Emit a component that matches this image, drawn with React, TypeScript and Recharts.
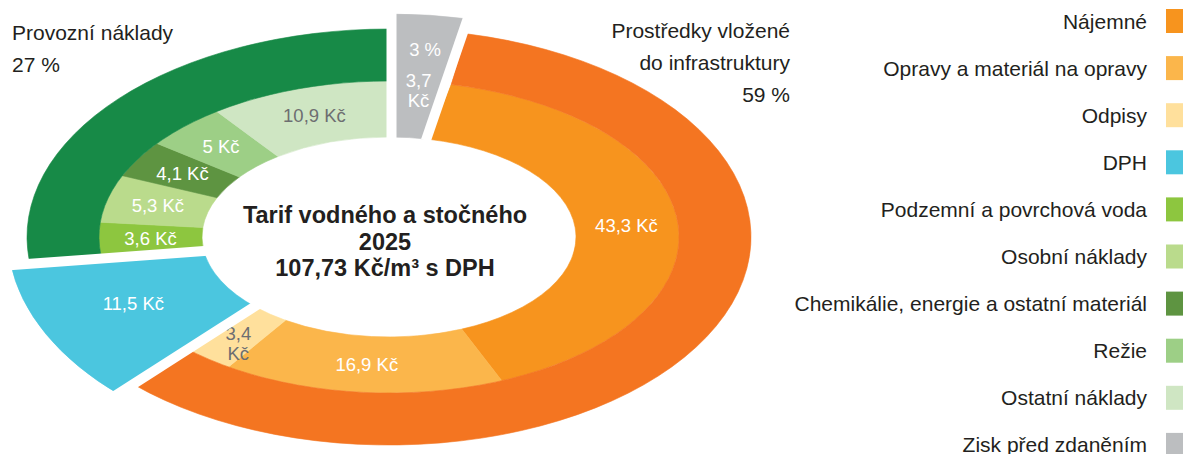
import { Pie, PieChart } from "recharts";

const INNER_NAMES = [
  "Zisk před zdaněním",
  "Nájemné",
  "Opravy a materiál na opravy",
  "Odpisy",
  "DPH",
  "Podzemní a povrchová voda",
  "Osobní náklady",
  "Chemikálie, energie a ostatní materiál",
  "Režie",
  "Ostatní náklady",
];
const INNER_VALUES = [3.7, 43.3, 16.9, 3.4, 11.5, 3.6, 5.3, 4.1, 5, 10.9];

const OUTER_NAMES = [
  "Zisk před zdaněním",
  "Prostředky vložené do infrastruktury",
  "DPH",
  "Provozní náklady",
];
const OUTER_VALUES = [3.7, 63.6, 11.5, 28.9];

const LEGEND_NAMES = [
  "Nájemné",
  "Opravy a materiál na opravy",
  "Odpisy",
  "DPH",
  "Podzemní a povrchová voda",
  "Osobní náklady",
  "Chemikálie, energie a ostatní materiál",
  "Režie",
  "Ostatní náklady",
  "Zisk před zdaněním",
];

const TITLE_LINES = ["Tarif vodného a stočného", "2025", "107,73 Kč/m³ s DPH"];

// slices pulled out of the ring, narrow ones with a two-line label, light ones with grey text
const EXPLODED = ["Zisk před zdaněním", "DPH"];
const TWO_LINE = ["Odpisy", "Zisk před zdaněním"];
const GREY_TEXT = ["Odpisy", "Ostatní náklady"];

const COLORS: Record<string, string> = {
  "Zisk před zdaněním": "#bcbec0",
  "Nájemné": "#f7941e",
  "Opravy a materiál na opravy": "#fbb64b",
  "Odpisy": "#ffe09c",
  "DPH": "#4bc6df",
  "Podzemní a povrchová voda": "#8dc63f",
  "Osobní náklady": "#badb8c",
  "Chemikálie, energie a ostatní materiál": "#5e9441",
  "Režie": "#9dcf86",
  "Ostatní náklady": "#cfe6c3",
  "Prostředky vložené do infrastruktury": "#f47521",
  "Provozní náklady": "#178a47",
};

const W = 1183;
const H = 454;
const CX = 389;
const CY = 237;
const HOLE = 187;
const MID = 290;
const OUTER = 362;
const BURST = 381;
// the ring is drawn flattened: horizontal radius -> vertical radius
const RY: [number, number][] = [
  [HOLE, 100],
  [MID, 156],
  [OUTER, 208],
  [BURST, 223],
];
const FONT = '"Liberation Sans", Arial, Helvetica, sans-serif';
const DARK = "#231f20";
const GREY = "#6d6e71";

const innerData = INNER_NAMES.map((name, i) => ({ name, value: INNER_VALUES[i] }));
const outerData = OUTER_NAMES.map((name, i) => ({ name, value: OUTER_VALUES[i] }));
const outerTotal = OUTER_VALUES.reduce((a, b) => a + b, 0);
const pct = (name: string) =>
  Math.round((OUTER_VALUES[OUTER_NAMES.indexOf(name)] / outerTotal) * 100) + " %";

function ry(r: number) {
  let i = 0;
  while (i < RY.length - 2 && r > RY[i + 1][0]) i++;
  const [r0, y0] = RY[i];
  const [r1, y1] = RY[i + 1];
  return y0 + ((r - r0) * (y1 - y0)) / (r1 - r0);
}

function pt(cx: number, cy: number, r: number, deg: number): [number, number] {
  const t = (deg * Math.PI) / 180;
  return [cx + r * Math.cos(t), cy - ry(r) * Math.sin(t)];
}

function ringPath(cx: number, cy: number, r0: number, r1: number, a0: number, a1: number) {
  const large = Math.abs(a0 - a1) > 180 ? 1 : 0;
  const p0 = pt(cx, cy, r1, a0);
  const p1 = pt(cx, cy, r1, a1);
  const p2 = pt(cx, cy, r0, a1);
  const p3 = pt(cx, cy, r0, a0);
  return (
    `M${p0[0]},${p0[1]} A${r1},${ry(r1)} 0 ${large} 1 ${p1[0]},${p1[1]} ` +
    `L${p2[0]},${p2[1]} A${r0},${ry(r0)} 0 ${large} 0 ${p3[0]},${p3[1]} Z`
  );
}

const fmt = (v: number) => String(v).replace(".", ",");

function sliceLabel(p: any, name: string, text: string, r: number, color: string, angle?: number) {
  const mid = angle ?? (p.startAngle + p.endAngle) / 2;
  const [x, y] = pt(p.cx, p.cy, r, mid);
  const common = {
    x,
    textAnchor: "middle" as const,
    dominantBaseline: "central" as const,
    fontFamily: FONT,
    fontSize: 18.5,
    fill: color,
  };
  if (TWO_LINE.includes(name)) {
    const parts = text.split(" ");
    return (
      <g>
        <text {...common} y={y - 10}>{parts[0]}</text>
        <text {...common} y={y + 10}>{parts[1]}</text>
      </g>
    );
  }
  return <text {...common} y={y}>{text}</text>;
}

function renderInner(p: any) {
  const name = p.payload?.name ?? p.name;
  if (EXPLODED.includes(name)) return <g />;
  const color = COLORS[name];
  return (
    <path
      d={ringPath(p.cx, p.cy, p.innerRadius, p.outerRadius, p.startAngle, p.endAngle)}
      fill={color}
      stroke={color}
      strokeWidth={0.6}
    />
  );
}

function renderOuter(p: any) {
  const name = p.payload?.name ?? p.name;
  const color = COLORS[name];
  const burst = EXPLODED.includes(name);
  const r0 = burst ? HOLE : p.innerRadius;
  const r1 = burst ? BURST : p.outerRadius;
  return (
    <g>
      <path
        d={ringPath(p.cx, p.cy, r0, r1, p.startAngle, p.endAngle)}
        fill={color}
        stroke={color}
        strokeWidth={0.6}
      />
      {name === "Zisk před zdaněním" &&
        sliceLabel(p, "", pct(name), (MID + BURST) / 2, "#ffffff")}
    </g>
  );
}

function gapLine(cx: number, cy: number, angle: number, mid: number) {
  const [x0, y0] = pt(cx, cy, HOLE - 4, angle);
  const [x1, y1] = pt(cx, cy, BURST + 8, angle);
  let dx = x1 - x0;
  let dy = y1 - y0;
  const len = Math.hypot(dx, dy);
  dx /= len;
  dy /= len;
  let nx = -dy;
  let ny = dx;
  const [mx, my] = pt(cx, cy, (HOLE + BURST) / 2, mid);
  if ((mx - x0) * nx + (my - y0) * ny < 0) {
    nx = -nx;
    ny = -ny;
  }
  const o = 2.5;
  return (
    <line
      x1={x0 + nx * o}
      y1={y0 + ny * o}
      x2={x1 + nx * o}
      y2={y1 + ny * o}
      stroke="#ffffff"
      strokeWidth={10}
    />
  );
}

// drawn last: gaps round the pulled-out slices, then every inner label
function renderOverlay(p: any) {
  const name = p.payload?.name ?? p.name;
  const burst = EXPLODED.includes(name);
  let mid = (p.startAngle + p.endAngle) / 2;
  let r = (p.innerRadius + p.outerRadius) / 2;
  if (name === "DPH") r = (HOLE + BURST) / 2;
  else if (TWO_LINE.includes(name)) {
    r = p.innerRadius + (p.outerRadius - p.innerRadius) * (burst ? 0.85 : 0.6);
    // keep narrow labels clear of the gap next to a pulled-out neighbour
    const next = INNER_NAMES[p.index + 1];
    const prev = INNER_NAMES[p.index - 1];
    if (!burst && EXPLODED.includes(next)) mid += 2;
    if (!burst && EXPLODED.includes(prev)) mid -= 2;
  }
  const color = GREY_TEXT.includes(name) ? GREY : "#ffffff";
  return (
    <g>
      {burst && gapLine(p.cx, p.cy, p.startAngle, mid)}
      {burst && gapLine(p.cx, p.cy, p.endAngle, mid)}
      {sliceLabel(p, name, fmt(p.value) + " Kč", r, color, mid)}
    </g>
  );
}

const textStyle = { fontFamily: FONT, fill: DARK };

export default function App() {
  return (
    <div style={{ position: "absolute", left: 0, top: 0, width: W, height: H, background: "#fff" }}>
      <PieChart width={W} height={H} margin={{ top: 0, right: 0, bottom: 0, left: 0 }}>
        <Pie
          data={innerData}
          dataKey="value"
          nameKey="name"
          cx={CX}
          cy={CY}
          innerRadius={HOLE}
          outerRadius={MID}
          startAngle={90}
          endAngle={-270}
          fill="none"
          stroke="none"
          label={renderInner}
          labelLine={false}
          isAnimationActive={false}
        />
        <Pie
          data={outerData}
          dataKey="value"
          nameKey="name"
          cx={CX}
          cy={CY}
          innerRadius={MID}
          outerRadius={OUTER}
          startAngle={90}
          endAngle={-270}
          fill="none"
          stroke="none"
          label={renderOuter}
          labelLine={false}
          isAnimationActive={false}
        />
        <Pie
          data={innerData}
          dataKey="value"
          nameKey="name"
          cx={CX}
          cy={CY}
          innerRadius={HOLE}
          outerRadius={MID}
          startAngle={90}
          endAngle={-270}
          fill="none"
          stroke="none"
          label={renderOverlay}
          labelLine={false}
          isAnimationActive={false}
        />
      </PieChart>
      <svg
        width={W}
        height={H}
        style={{ position: "absolute", left: 0, top: 0, pointerEvents: "none" }}
      >
        {TITLE_LINES.map((t, i) => (
          <text
            key={t}
            x={385}
            y={223 + i * 26.5}
            textAnchor="middle"
            fontSize={23.5}
            fontWeight="bold"
            {...textStyle}
          >
            {t}
          </text>
        ))}
        <text x={12} y={40} fontSize={21} {...textStyle}>Provozní náklady</text>
        <text x={12} y={72} fontSize={21} {...textStyle}>{pct("Provozní náklady")}</text>
        <text x={790} y={38} fontSize={21} textAnchor="end" {...textStyle}>Prostředky vložené</text>
        <text x={790} y={70} fontSize={21} textAnchor="end" {...textStyle}>do infrastruktury</text>
        <text x={790} y={102} fontSize={21} textAnchor="end" {...textStyle}>
          {pct("Prostředky vložené do infrastruktury")}
        </text>
        {LEGEND_NAMES.map((name, i) => {
          const y = 21 + i * 47.1;
          return (
            <g key={name}>
              <text x={1147} y={y + 7.5} fontSize={21} textAnchor="end" {...textStyle}>
                {name}
              </text>
              <rect x={1166} y={y - 12} width={18} height={24} fill={COLORS[name]} />
            </g>
          );
        })}
      </svg>
    </div>
  );
}
